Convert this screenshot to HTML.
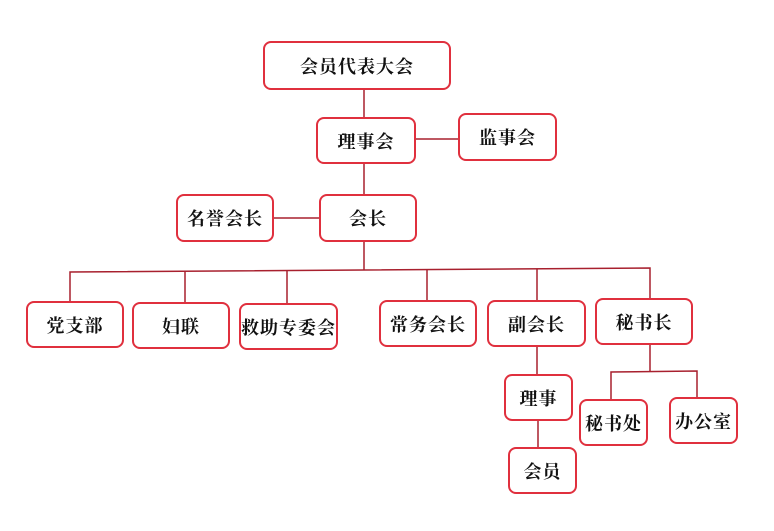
<!DOCTYPE html>
<html><head><meta charset="utf-8"><style>
body{margin:0;width:774px;height:531px;background:#fff;position:relative;overflow:hidden}
.b{position:absolute;box-sizing:border-box;border:2px solid #e0303e;border-radius:8px;background:#fff;display:flex;align-items:center;justify-content:center;font-family:"Liberation Serif","Noto Serif CJK SC",serif;font-size:18px;font-weight:bold;color:#111;letter-spacing:1px}
svg{position:absolute;left:0;top:0}
</style></head><body>
<svg width="774" height="531"><g stroke="#a8202e" stroke-width="1.5" fill="none">
<line x1="364" y1="89" x2="364" y2="117"/>
<line x1="415" y1="139" x2="458" y2="139"/>
<line x1="364" y1="163" x2="364" y2="194"/>
<line x1="273" y1="218" x2="319" y2="218"/>
<line x1="364" y1="241" x2="364" y2="270"/>
<polyline points="70,301 70,272 650,268 650,298"/>
<line x1="185" y1="271" x2="185" y2="302"/>
<line x1="287" y1="271" x2="287" y2="303"/>
<line x1="427" y1="270" x2="427" y2="300"/>
<line x1="537" y1="269" x2="537" y2="300"/>
<line x1="537" y1="346" x2="537" y2="374"/>
<line x1="538" y1="420" x2="538" y2="447"/>
<line x1="650" y1="344" x2="650" y2="371"/>
<polyline points="611,399 611,372 697,371 697,397"/>
</g></svg>
<div class="b" style="left:263px;top:41px;width:188px;height:49px">会员代表大会</div>
<div class="b" style="left:316px;top:117px;width:100px;height:47px">理事会</div>
<div class="b" style="left:458px;top:113px;width:99px;height:48px">监事会</div>
<div class="b" style="left:176px;top:194px;width:98px;height:48px">名誉会长</div>
<div class="b" style="left:319px;top:194px;width:98px;height:48px">会长</div>
<div class="b" style="left:26px;top:301px;width:98px;height:47px">党支部</div>
<div class="b" style="left:132px;top:302px;width:98px;height:47px">妇联</div>
<div class="b" style="left:239px;top:303px;width:99px;height:47px">救助专委会</div>
<div class="b" style="left:379px;top:300px;width:98px;height:47px">常务会长</div>
<div class="b" style="left:487px;top:300px;width:99px;height:47px">副会长</div>
<div class="b" style="left:595px;top:298px;width:98px;height:47px">秘书长</div>
<div class="b" style="left:504px;top:374px;width:69px;height:47px">理事</div>
<div class="b" style="left:579px;top:399px;width:69px;height:47px">秘书处</div>
<div class="b" style="left:669px;top:397px;width:69px;height:47px">办公室</div>
<div class="b" style="left:508px;top:447px;width:69px;height:47px">会员</div>
</body></html>
